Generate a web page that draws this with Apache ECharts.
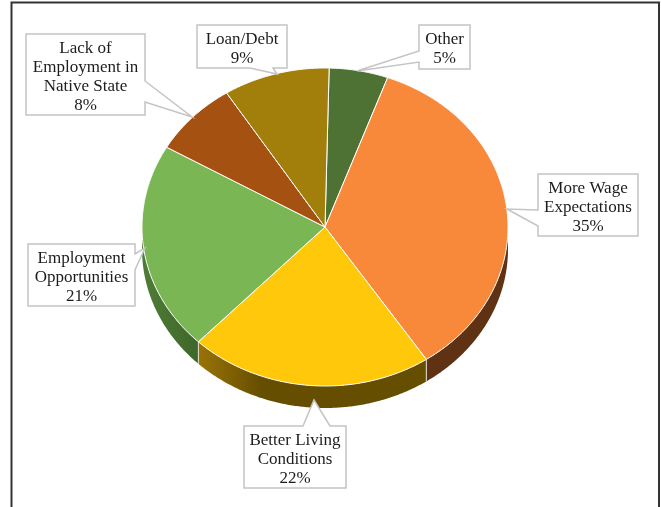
<!DOCTYPE html>
<html>
<head>
<meta charset="utf-8">
<style>
  html, body { margin: 0; padding: 0; background: #fff; }
  #main { width: 661px; height: 507px; }
</style>
<script src="https://cdn.jsdelivr.net/npm/echarts@6/dist/echarts.min.js"></script>
</head>
<body>
<div id="main"></div>
<script>
const categories = ['Other', 'More Wage\nExpectations', 'Better Living\nConditions', 'Employment\nOpportunities', 'Lack of\nEmployment in\nNative State', 'Loan/Debt'];
const values = [5.2, 35.1, 21.5, 21.2, 7.6, 9.4];
const topColors = ['#4E7233', '#F8893B', '#FFC80A', '#7AB653', '#A55112', '#A27E0B'];

// tilted pie, drawn as an ellipse with a rim
const pie = { cx: 325, cy: 227, rx: 183, ry: 159, depth: 22, startDeg: 1.3 };

// label boxes, [left, top, right, bottom] and callout outline [x, y] points
const boxes = [
  { rect: [419, 25, 470, 69], tail: [[419, 51], [357, 71], [419, 62]] },
  { rect: [538, 174, 638, 236], tail: [[538, 210], [507, 209], [538, 226]] },
  { rect: [244, 426, 346, 488], tail: [[303, 426], [314, 400], [330, 426]] },
  { rect: [28, 244, 135, 306], tail: [[135, 254], [145, 248], [135, 270]] },
  { rect: [26, 34, 145, 115], tail: [[145, 81], [192, 117], [145, 102]] },
  { rect: [197, 25, 287, 68], tail: [[250, 68], [277, 74], [273, 68]] }
];

const total = values.reduce((a, b) => a + b, 0);
const angles = [];
let acc = pie.startDeg;
values.forEach(v => {
  angles.push([acc, acc + v / total * 360]);
  acc += v / total * 360;
});

function pt(deg, dy) {
  const t = deg * Math.PI / 180;
  return [pie.cx + pie.rx * Math.sin(t), pie.cy - pie.ry * Math.cos(t) + (dy || 0)];
}

function arc(a, b, dy) {
  const pts = [];
  const n = Math.max(2, Math.ceil(Math.abs(b - a) * 2));
  for (let i = 0; i <= n; i++) pts.push(pt(a + (b - a) * i / n, dy));
  return pts;
}

function sideFill(i) {
  if (i === 1) return '#5F3213';
  if (i === 2) {
    return new echarts.graphic.LinearGradient(0, 0, 1, 0, [
      { offset: 0, color: '#9A7306' },
      { offset: 0.28, color: '#654E00' },
      { offset: 1, color: '#654E00' }
    ]);
  }
  return new echarts.graphic.LinearGradient(0, 0, 1, 0, [
    { offset: 0, color: '#4F7D37' },
    { offset: 1, color: '#3F662A' }
  ]);
}

const seriesData = values.map((v, i) => ({ name: categories[i], value: [i, v] }));

const option = {
  animation: false,
  backgroundColor: '#fff',
  graphic: [{
    type: 'polyline',
    silent: true,
    shape: { points: [[11.5, 510], [11.5, 2.5], [659, 2.5], [659, 510]] },
    style: { stroke: '#333', lineWidth: 2, fill: null }
  }],
  series: [
    {
      // rim under the front of the pie
      type: 'custom',
      coordinateSystem: 'none',
      data: seriesData,
      renderItem: function (params, api) {
        const i = api.value(0);
        const a = Math.max(angles[i][0], 90);
        const b = Math.min(angles[i][1], 270);
        if (b <= a) return { type: 'group', children: [] };
        const children = [{
          type: 'polygon',
          shape: { points: arc(a, b, 0).concat(arc(b, a, pie.depth)) },
          style: { fill: sideFill(i) }
        }];
        if (a > 90) {
          children.push({
            type: 'line',
            shape: { x1: pt(a)[0], y1: pt(a)[1], x2: pt(a, pie.depth)[0], y2: pt(a, pie.depth)[1] },
            style: { stroke: '#E4DFD0', lineWidth: 1 }
          });
        }
        return { type: 'group', children: children };
      }
    },
    {
      type: 'custom',
      coordinateSystem: 'none',
      data: seriesData,
      z: 3,
      renderItem: function (params, api) {
        const i = api.value(0);
        const pts = [[pie.cx, pie.cy]].concat(arc(angles[i][0], angles[i][1], 0));
        return {
          type: 'polygon',
          shape: { points: pts },
          style: { fill: topColors[i], stroke: '#fff', lineWidth: 1, lineJoin: 'round' }
        };
      }
    },
    {
      type: 'custom',
      coordinateSystem: 'none',
      data: seriesData,
      z: 5,
      renderItem: function (params, api) {
        const i = api.value(0);
        const box = boxes[i];
        const [l, t, r, b] = box.rect;
        // walk the box outline clockwise and splice the callout in on its edge
        const tail = box.tail;
        let pts;
        if (tail[0][0] === l && tail[2][0] === l) pts = [[l, t], [r, t], [r, b], [l, b], tail[2], tail[1], tail[0]];
        else if (tail[0][0] === r && tail[2][0] === r) pts = [[l, t], [r, t], tail[0], tail[1], tail[2], [r, b], [l, b]];
        else if (tail[0][1] === t) pts = [[l, t], tail[0], tail[1], tail[2], [r, t], [r, b], [l, b]];
        else pts = [[l, t], [r, t], [r, b], tail[2], tail[1], tail[0], [l, b]];
        return {
          type: 'group',
          children: [
            {
              type: 'polygon',
              shape: { points: pts },
              style: { fill: '#fff', stroke: '#C4C4C4', lineWidth: 1.5 }
            },
            {
              type: 'text',
              style: {
                x: (l + r) / 2,
                y: (t + b) / 2 + 2.5,
                text: categories[i] + '\n' + Math.round(values[i]) + '%',
                fill: '#1c1c1c',
                font: '17px "Liberation Serif"',
                lineHeight: 19,
                align: 'center',
                verticalAlign: 'middle'
              }
            }
          ]
        };
      }
    }
  ]
};

const chart = echarts.init(document.getElementById('main'), null, { renderer: 'canvas' });
chart.setOption(option);
</script>
</body>
</html>
